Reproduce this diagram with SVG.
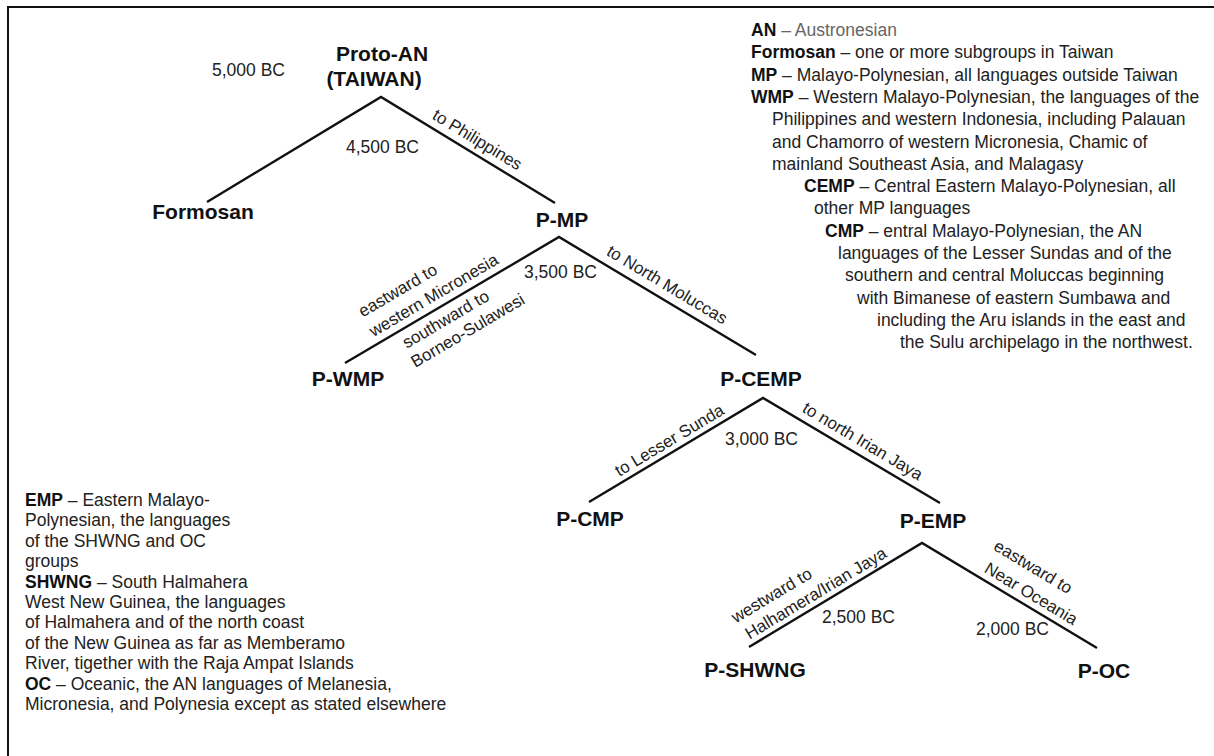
<svg xmlns="http://www.w3.org/2000/svg" width="1214" height="756" viewBox="0 0 1214 756">
<style>
.bg{fill:#fff}
.frame{fill:none;stroke:#111;stroke-width:2}
.edge{fill:none;stroke:#111;stroke-width:2.4;stroke-linecap:butt;stroke-linejoin:miter}
.node{font-family:"Liberation Sans",Arial,sans-serif;font-weight:bold;font-size:21px;fill:#111;text-anchor:middle}
.date{font-family:"Liberation Sans",Arial,sans-serif;font-size:17.5px;fill:#222}
.route{font-family:"Liberation Sans",Arial,sans-serif;font-size:17px;fill:#222;text-anchor:middle}
.leg{font-family:"Liberation Sans",Arial,sans-serif;font-size:17.5px;fill:#222}
.leg .b{font-weight:bold;fill:#111}
.gray{fill:#666}
</style>
<rect class="bg" x="0" y="0" width="1214" height="756"/>
<path class="frame" d="M8,756 V7 H1214"/>

<g id="connectors">
<path class="edge" d="M207,202 L381,97 L555,203"/>
<path class="edge" d="M345,363 L559,237 L756,355"/>
<path class="edge" d="M589,502 L763,398 L940,503"/>
<path class="edge" d="M749,647 L922,543 L1097,648"/>
</g>

<g id="route-labels">
<text class="route" transform="translate(474.4,144.5) rotate(31.3)">to Philippines</text>
<text class="route" transform="translate(400.7,295.3) rotate(-30.5)">eastward to</text>
<text class="route" transform="translate(436.5,300.2) rotate(-30.5)">western Micronesia</text>
<text class="route" transform="translate(448.6,324.1) rotate(-30.5)">southward to</text>
<text class="route" transform="translate(470.7,335.4) rotate(-30.5)">Borneo-Sulawesi</text>
<text class="route" transform="translate(664.2,289.6) rotate(30.9)">to North Moluccas</text>
<text class="route" transform="translate(672.3,445.2) rotate(-30.9)">to Lesser Sunda</text>
<text class="route" transform="translate(859.8,446.1) rotate(30.7)">to north Irian Jaya</text>
<text class="route" transform="translate(774.5,600.2) rotate(-31)">westward to</text>
<text class="route" transform="translate(818.7,598.1) rotate(-31)">Halhamera/Irian Jaya</text>
<text class="route" transform="translate(1030.2,571.8) rotate(31)">eastward to</text>
<text class="route" transform="translate(1028.1,598.5) rotate(31)">Near Oceania</text>
</g>

<g id="dates">
<text class="date" x="212" y="76">5,000 BC</text>
<text class="date" x="346" y="153">4,500 BC</text>
<text class="date" x="524" y="278">3,500 BC</text>
<text class="date" x="725" y="445">3,000 BC</text>
<text class="date" x="822" y="623">2,500 BC</text>
<text class="date" x="976" y="635">2,000 BC</text>
</g>

<g id="node-proto-an">
<text class="node" x="382" y="61">Proto-AN</text>
<text class="node" x="374" y="86">(TAIWAN)</text>
</g>
<g id="node-formosan"><text class="node" x="203" y="219">Formosan</text></g>
<g id="node-p-mp"><text class="node" x="562" y="227">P-MP</text></g>
<g id="node-p-wmp"><text class="node" x="348" y="386">P-WMP</text></g>
<g id="node-p-cemp"><text class="node" x="761" y="386">P-CEMP</text></g>
<g id="node-p-cmp"><text class="node" x="590" y="526">P-CMP</text></g>
<g id="node-p-emp"><text class="node" x="933" y="528">P-EMP</text></g>
<g id="node-p-shwng"><text class="node" x="755" y="677">P-SHWNG</text></g>
<g id="node-p-oc"><text class="node" x="1104" y="678">P-OC</text></g>

<g id="legend-right" class="leg">
<text x="751" y="36"><tspan class="b">AN</tspan><tspan class="gray"> – Austronesian</tspan></text>
<text x="751" y="58.3"><tspan class="b">Formosan</tspan> – one or more subgroups in Taiwan</text>
<text x="751" y="80.6"><tspan class="b">MP</tspan> – Malayo-Polynesian, all languages outside Taiwan</text>
<text x="751" y="102.9"><tspan class="b">WMP</tspan> – Western Malayo-Polynesian, the languages of the</text>
<text x="772" y="125.2">Philippines and western Indonesia, including Palauan</text>
<text x="772" y="147.5">and Chamorro of western Micronesia, Chamic of</text>
<text x="772" y="169.8">mainland Southeast Asia, and Malagasy</text>
<text x="804" y="192.1"><tspan class="b">CEMP</tspan> – Central Eastern Malayo-Polynesian, all</text>
<text x="814" y="214.4">other MP languages</text>
<text x="825" y="236.7"><tspan class="b">CMP</tspan> – entral Malayo-Polynesian, the AN</text>
<text x="838" y="259">languages of the Lesser Sundas and of the</text>
<text x="845" y="281.3">southern and central Moluccas beginning</text>
<text x="857" y="303.6">with Bimanese of eastern Sumbawa and</text>
<text x="877" y="325.9">including the Aru islands in the east and</text>
<text x="900" y="348.2">the Sulu archipelago in the northwest.</text>
</g>

<g id="legend-left" class="leg">
<text x="25" y="506"><tspan class="b">EMP</tspan> – Eastern Malayo-</text>
<text x="25" y="526.4">Polynesian, the languages</text>
<text x="25" y="546.8">of the SHWNG and OC</text>
<text x="25" y="567.2">groups</text>
<text x="25" y="587.6"><tspan class="b">SHWNG</tspan> – South Halmahera</text>
<text x="25" y="608">West New Guinea, the languages</text>
<text x="25" y="628.4">of Halmahera and of the north coast</text>
<text x="25" y="648.8">of the New Guinea as far as Memberamo</text>
<text x="25" y="669.2">River, tigether with the Raja Ampat Islands</text>
<text x="25" y="689.6"><tspan class="b">OC</tspan> – Oceanic, the AN languages of Melanesia,</text>
<text x="25" y="710">Micronesia, and Polynesia except as stated elsewhere</text>
</g>
</svg>
